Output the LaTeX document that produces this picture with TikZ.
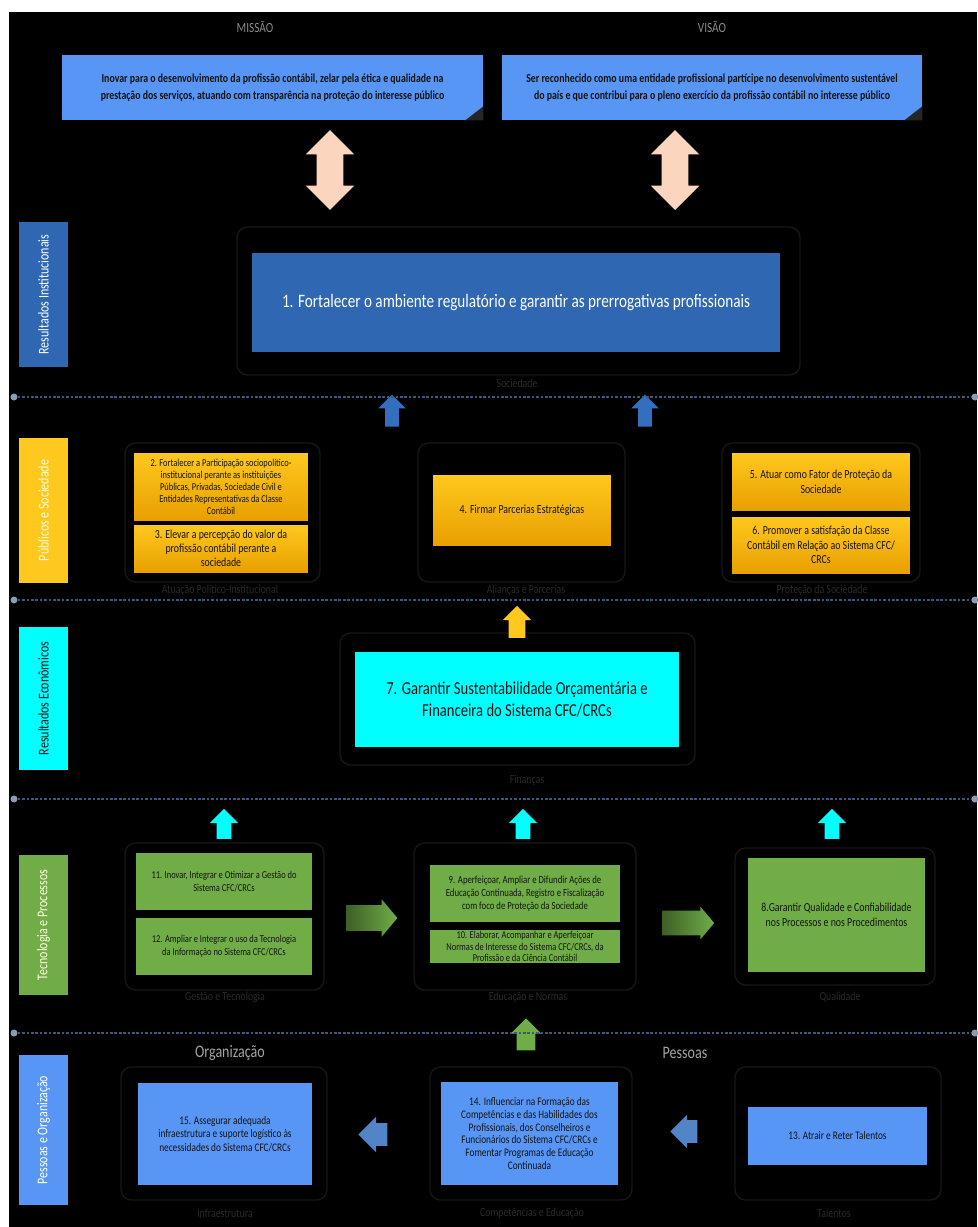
\documentclass[tikz,border=0pt]{standalone}
\usepackage{fontspec}
\usetikzlibrary{shapes.arrows}
\newfontfamily\nrw{Carlito}[FakeStretch=0.8]
\definecolor{misblue}{RGB}{88,150,245}
\definecolor{inblue}{RGB}{47,103,178}
\definecolor{upblue}{RGB}{52,110,190}
\definecolor{goldtop}{RGB}{255,200,30}
\definecolor{goldbot}{RGB}{232,160,0}
\definecolor{aqua}{RGB}{0,255,255}
\definecolor{leaf}{RGB}{112,173,71}
\definecolor{peach}{RGB}{251,213,190}
\definecolor{sepline}{RGB}{60,88,128}
\definecolor{framegray}{RGB}{22,22,22}
\definecolor{capgray}{RGB}{42,42,42}
\definecolor{labgray}{RGB}{140,140,140}
\definecolor{txt}{RGB}{20,20,20}
\begin{document}
\begin{tikzpicture}[x=0.02cm, y=-0.02cm,
  every node/.style={font=\nrw},
  sz/.style 2 args={font=\nrw\fontsize{#1}{#2}\selectfont},
  card/.style={align=center, inner sep=1pt, text=txt},
  gold/.style={card, top color=goldtop, bottom color=goldbot},
  bar/.style={rotate=90, minimum height=0.98cm, inner sep=0pt, sz={8.5}{9}},
  frm/.style={draw=framegray, rounded corners=6pt, line width=0.8pt},
  grpcap/.style={text=capgray, sz={7}{8}},
  sep/.style={sepline, line width=0.9pt, dash pattern=on 1.5pt off 1pt},
  sdot/.style={circle, fill=sepline!60!white, inner sep=0pt, minimum size=0.14cm},
  arr/.style n args={3}{single arrow, draw=none, minimum height=#1, inner xsep=0pt, inner ysep=#2, single arrow head extend=#3},
  darr/.style={double arrow, draw=none, fill=peach, rotate=90, minimum height=1.6cm, inner xsep=0pt, inner ysep=0.26cm, double arrow head extend=0.22cm}]
\useasboundingbox (0,0) rectangle (977,1227);
\fill[white] (0,0) rectangle (977,1227);
\fill[black] (9,12) rectangle (977,1227);

\node[text=labgray, sz={8}{9}] (misl) at (255,27) {MISSÃO};
\node[text=labgray, sz={8}{9}] (visl) at (712,27) {VISÃO};
\node[card, fill=misblue, minimum width=8.42cm, minimum height=1.3cm, font=\nrw\bfseries\fontsize{7}{9.6}\selectfont] (mis) at (272.5,87.5)
  {Inovar para o desenvolvimento da profissão contábil, zelar pela ética e qualidade na\\prestação dos serviços, atuando com transparência na proteção do interesse público};
\node[card, fill=misblue, minimum width=8.4cm, minimum height=1.3cm, font=\nrw\bfseries\fontsize{7}{9.6}\selectfont] (vis) at (712,87.5)
  {Ser reconhecido como uma entidade profissional partícipe no desenvolvimento sustentável\\do país e que contribui para o pleno exercício da profissão contábil no interesse público};
\fill[black!85] ([xshift=-0.36cm]mis.south east) -- (mis.south east) -- ([yshift=0.28cm]mis.south east) -- cycle;
\fill[black!85] ([xshift=-0.36cm]vis.south east) -- (vis.south east) -- ([yshift=0.28cm]vis.south east) -- cycle;
\node[darr] (da1) at (330,170) {};
\node[darr] (da2) at (675,170) {};

\draw[frm] (237,227) rectangle (800,375);
\draw[frm] (125,443) rectangle (320,582);
\draw[frm] (418,443) rectangle (625,582);
\draw[frm] (722,443) rectangle (920,582);
\draw[frm] (340,633) rectangle (695,765);
\draw[frm] (125,843) rectangle (324,990);
\draw[frm] (414,843) rectangle (636,990);
\draw[frm] (735,848) rectangle (935,985);
\draw[frm] (121,1067) rectangle (327,1200);
\draw[frm] (430,1067) rectangle (632,1200);
\draw[frm] (735,1067) rectangle (941,1200);

\node[bar, fill=inblue, text=white, minimum width=2.9cm] (rinst) at (43.5,294.5) {Resultados Institucionais};
\node[bar, fill=goldtop, text=white!88!yellow, minimum width=2.9cm] (rsoc) at (43.5,510.5) {Públicos e Sociedade};
\node[bar, fill=aqua, text=txt, minimum width=2.86cm] (reco) at (43.5,698.5) {Resultados Econômicos};
\node[bar, fill=leaf, text=white!88!yellow, minimum width=2.8cm] (rproc) at (43.5,925) {Tecnologia e Processos};
\node[bar, fill=misblue, text=white, minimum width=3cm] (rpes) at (43.5,1130) {Pessoas e Organização};

\node[card, fill=inblue, text=white, minimum width=10.56cm, minimum height=1.98cm, sz={10.8}{13}] (b1) at (516,302.5)
  {1. Fortalecer o ambiente regulatório e garantir as prerrogativas profissionais};

\node[gold, minimum width=3.48cm, minimum height=1.34cm, sz={6}{6.8}] (b2) at (221,486.5)
  {2. Fortalecer a Participação sociopolítico-\\institucional perante as instituições\\Públicas, Privadas, Sociedade Civil e\\Entidades Representativas da Classe\\Contábil};
\node[gold, minimum width=3.48cm, minimum height=0.94cm, sz={7}{8}] (b3) at (221,548.5)
  {3. Elevar a percepção do valor da\\profissão contábil perante a\\sociedade};
\node[gold, minimum width=3.56cm, minimum height=1.4cm, sz={7}{8}] (b4) at (522,510)
  {4. Firmar Parcerias Estratégicas};
\node[gold, minimum width=3.56cm, minimum height=1.14cm, sz={7}{8.4}] (b5) at (821,481.5)
  {5. Atuar como Fator de Proteção da\\Sociedade};
\node[gold, minimum width=3.56cm, minimum height=1.12cm, sz={7}{8.4}] (b6) at (821,545)
  {6. Promover a satisfação da Classe\\Contábil em Relação ao Sistema CFC/\\CRCs};

\node[card, fill=aqua, minimum width=6.48cm, minimum height=1.9cm, sz={10.4}{13}] (b7) at (517,699.5)
  {7. Garantir Sustentabilidade Orçamentária e\\Financeira do Sistema CFC/CRCs};

\node[card, fill=leaf, minimum width=3.52cm, minimum height=1.14cm, sz={6}{7.4}] (b11) at (224,881.5)
  {11. Inovar, Integrar e Otimizar a Gestão do\\Sistema CFC/CRCs};
\node[card, fill=leaf, minimum width=3.52cm, minimum height=1.14cm, sz={6}{7.4}] (b12) at (224,946.5)
  {12. Ampliar e Integrar o uso da Tecnologia\\da Informação no Sistema CFC/CRCs};
\node[card, fill=leaf, minimum width=3.8cm, minimum height=1.14cm, sz={6.2}{7.2}] (b9) at (525,893.5)
  {9. Aperfeiçoar, Ampliar e Difundir Ações de\\Educação Continuada, Registro e Fiscalização\\com foco de Proteção da Sociedade};
\node[card, fill=leaf, minimum width=3.8cm, minimum height=0.66cm, sz={6}{6.4}] (b10) at (525,946.5)
  {10. Elaborar, Acompanhar e Aperfeiçoar\\Normas de Interesse do Sistema CFC/CRCs, da\\Profissão e da Ciência Contábil};
\node[card, fill=leaf, minimum width=3.54cm, minimum height=2.28cm, sz={7}{8.4}] (b8) at (836.5,915)
  {8.Garantir Qualidade e Confiabilidade\\nos Processos e nos Procedimentos};

\node[card, fill=misblue, minimum width=3.48cm, minimum height=2.04cm, sz={6.6}{7.8}] (b15) at (225,1134)
  {15. Assegurar adequada\\infraestrutura e suporte logístico às\\necessidades do Sistema CFC/CRCs};
\node[card, fill=misblue, minimum width=3.54cm, minimum height=2.06cm, sz={6.6}{7.2}] (b14) at (529.5,1133.5)
  {14. Influenciar na Formação das\\Competências e das Habilidades dos\\Profissionais, dos Conselheiros e\\Funcionários do Sistema CFC/CRCs e\\Fomentar Programas de Educação\\Continuada};
\node[card, fill=misblue, minimum width=3.58cm, minimum height=1.16cm, sz={6.6}{7.8}] (b13) at (837.5,1136)
  {13. Atrair e Reter Talentos};

\node[arr={0.64cm}{0.13cm}{0.14cm}, fill=upblue, rotate=90] (ua1) at (392,414) {};
\node[arr={0.64cm}{0.13cm}{0.14cm}, fill=upblue, rotate=90] (ua2) at (645,414) {};
\node[arr={0.64cm}{0.16cm}{0.12cm}, fill=goldtop, rotate=90] (ya) at (517,626) {};
\node[arr={0.6cm}{0.14cm}{0.14cm}, fill=aqua, rotate=90] (ca1) at (224,827.5) {};
\node[arr={0.6cm}{0.14cm}{0.14cm}, fill=aqua, rotate=90] (ca2) at (523,827.5) {};
\node[arr={0.6cm}{0.14cm}{0.14cm}, fill=aqua, rotate=90] (ca3) at (832,827.5) {};
\node[arr={0.64cm}{0.18cm}{0.12cm}, fill=leaf, rotate=90] (ga) at (526,1039) {};
\node[arr={1.02cm}{0.25cm}{0.12cm}, single arrow tip angle=100, left color=leaf!55!black, right color=leaf] (gr1) at (366.5,918) {};
\node[arr={1.04cm}{0.24cm}{0.08cm}, single arrow tip angle=100, left color=leaf!55!black, right color=leaf] (gr2) at (683,923) {};
\node[arr={0.58cm}{0.22cm}{0.13cm}, fill=upblue!85!white, rotate=180] (bl1) at (378.5,1134.5) {};
\node[arr={0.54cm}{0.22cm}{0.11cm}, fill=upblue!85!white, rotate=180] (bl2) at (689.5,1131.5) {};

\foreach \yy [count=\i] in {397,600,799,1033} {
  \node[sdot] (sl\i) at (14,\yy) {};
  \node[sdot] (sr\i) at (975,\yy) {};
  \draw[sep] (sl\i) -- (sr\i);
}

\node[grpcap] (c1) at (517,383) {Sociedade};
\node[grpcap] (c2) at (220,590) {Atuação Político-Institucional};
\node[grpcap] (c3) at (526,590) {Alianças e Parcerias};
\node[grpcap] (c4) at (822,590) {Proteção da Sociedade};
\node[grpcap] (c5) at (527,780) {Finanças};
\node[grpcap] (c6) at (225,997) {Gestão e Tecnologia};
\node[grpcap] (c7) at (528,997) {Educação e Normas};
\node[grpcap] (c8) at (840,997) {Qualidade};
\node[grpcap] (c9) at (225,1213) {Infraestrutura};
\node[grpcap] (c10) at (532,1213) {Competências e Educação};
\node[grpcap] (c11) at (834,1213) {Talentos};

\node[text=labgray!80!white, sz={10}{12}] (org) at (230,1053) {Organização};
\node[text=labgray!80!white, sz={10}{12}] (pes) at (685,1053) {Pessoas};
\end{tikzpicture}
\end{document}
